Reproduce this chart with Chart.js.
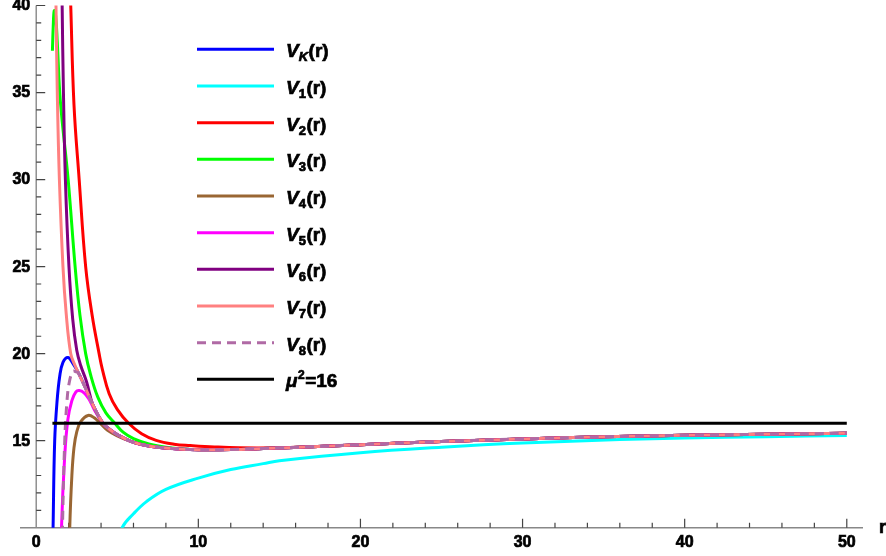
<!DOCTYPE html>
<html>
<head>
<meta charset="utf-8">
<script src="https://cdn.jsdelivr.net/npm/chart.js@4.4.1/dist/chart.umd.min.js"></script>
<style>
  html, body { margin: 0; padding: 0; background: #fff; }
</style>
</head>
<body>
<canvas id="chart" width="886" height="556"></canvas>
<script>
// values, as [r, V] pairs
const tail = [[2.6, 18.9], [3, 18.1], [3.5, 17.05], [4.12, 16.0], [4.6, 15.6], [5, 15.35],
  [5.8, 14.97], [6.5, 14.78], [7.5, 14.62], [9, 14.51], [10, 14.48], [12, 14.49], [14, 14.55],
  [17, 14.65], [20, 14.77], [25, 14.95], [30, 15.1], [35, 15.22], [40, 15.31], [45, 15.37],
  [50, 15.42]];

const vK = [[0.98, 7], [1.04, 10], [1.14, 15], [1.28, 17.2], [1.45, 18.7], [1.65, 19.5],
  [1.96, 19.78], [2.25, 19.45]];
const v1 = [[5.22, 9.3], [5.3, 10], [6, 10.8], [6.8, 11.5], [8, 12.2], [10, 12.85], [12, 13.34],
  [14, 13.68], [15, 13.85], [20, 14.31], [25, 14.62], [30, 14.86], [36, 15.06], [40, 15.15],
  [45, 15.23], [50, 15.29]];
const v2 = [[2.0, 44], [2.13, 40], [2.33, 34.3], [2.65, 30], [3.05, 25], [3.45, 22.2], [3.88, 20],
  [4.08, 19.1], [4.5, 17.7], [5, 16.8], [5.7, 16.0], [6.5, 15.4], [7.4, 15.02], [8.5, 14.8],
  [9.5, 14.72], [11, 14.64], [13.6, 14.58], [16, 14.62]];
const v3 = [[1.0, 37.4], [1.05, 38.8], [1.11, 39.7], [1.2, 39.4], [1.3, 37.9], [1.49, 34.5],
  [1.97, 30], [2.4, 25], [2.7, 22.2], [3.05, 20], [3.35, 18.8], [3.8, 17.5], [4.3, 16.6],
  [4.85, 16.0], [5.36, 15.49], [6, 15.12], [7, 14.8], [8, 14.62], [9, 14.53]];
const v4 = [[2.03, 7], [2.07, 10], [2.2, 13], [2.33, 14.6], [2.5, 15.5], [2.75, 16.1], [3.2, 16.45],
  [3.6, 16.3], [4.0, 15.95], [4.4, 15.6], [5, 15.28]];
const v5 = [[1.52, 7], [1.56, 10], [1.75, 14], [1.95, 16.2], [2.2, 17.3], [2.45, 17.8],
  [2.65, 17.88], [2.95, 17.75], [3.25, 17.4], [3.6, 16.75]];
const v6 = [[1.55, 44], [1.6, 40], [1.68, 35], [1.8, 30], [2.02, 25], [2.25, 22], [2.5, 20.2],
  [2.75, 19.3], [3.1, 18.4]];
const v7 = [[1.15, 45], [1.22, 40], [1.3, 35], [1.43, 30], [1.65, 25], [1.85, 22.3], [2.13, 20],
  [2.4, 19.3]];
const v8 = [[1.58, 7], [1.62, 10], [1.76, 15], [1.9, 17.3], [2.05, 18.4], [2.27, 18.98],
  [2.45, 18.95]];
const mu = [[1, 16], [50, 16]];

const names = ['VK', 'V1', 'V2', 'V3', 'V4', 'V5', 'V6', 'V7', 'V8', 'mu'];
const subs = ['K', '1', '2', '3', '4', '5', '6', '7', '8', ''];
const colors = ['#0000ff', '#00ffff', '#ff0000', '#00ff00', '#996633', '#ff00ff', '#800080',
  '#ff8080', '#b06aa5', '#000000'];

const xTicks = [0, 10, 20, 30, 40, 50];
const yTicks = [15, 20, 25, 30, 35, 40];

// head of a curve followed by the common tail beyond it
function withTail(head) {
  const last = head[head.length - 1][0];
  return head.concat(tail.filter(p => p[0] > last + 0.05));
}

const curves = [withTail(vK), v1, withTail(v2), withTail(v3), withTail(v4), withTail(v5),
  withTail(v6), withTail(v7), withTail(v8), mu];

const datasets = curves.map((pts, i) => ({
  label: names[i],
  data: pts.map(p => ({ x: p[0], y: p[1] })),
  borderColor: colors[i],
  borderWidth: 3,
  borderDash: i === 8 ? [9, 6] : [],
  pointRadius: 0,
  fill: false,
  tension: 0.4,
  order: names.length - i
}));

const FONT = '"Liberation Sans", Arial, sans-serif';

// fill plus a thin stroke, to get the heavy look of the original labels
function heavyText(ctx, s, x, y) {
  ctx.fillText(s, x, y);
  ctx.strokeText(s, x, y);
}

// Mathematica-style axes: inward ticks, axes crossing at (0, 10)
const axesPlugin = {
  id: 'mmaAxes',
  beforeDatasetsDraw(chart) {
    const ctx = chart.ctx, xs = chart.scales.x, ys = chart.scales.y, area = chart.chartArea;
    const x0 = xs.getPixelForValue(0), yb = ys.getPixelForValue(10), yt = ys.getPixelForValue(40);
    ctx.save();
    ctx.strokeStyle = '#888';
    ctx.lineWidth = 1.4;
    ctx.beginPath();
    ctx.moveTo(area.left, yb); ctx.lineTo(area.right, yb);
    ctx.moveTo(x0, yt); ctx.lineTo(x0, yb);
    ctx.stroke();

    ctx.strokeStyle = '#444';
    ctx.lineWidth = 1.2;
    ctx.beginPath();
    for (let v = 2; v <= 50; v += 2) {
      const len = xTicks.includes(v) ? 9 : 5;
      const px = xs.getPixelForValue(v);
      ctx.moveTo(px, yb); ctx.lineTo(px, yb - len);
    }
    for (let v = 11; v <= 40; v += 1) {
      const len = yTicks.includes(v) ? 9 : 5;
      const py = ys.getPixelForValue(v);
      ctx.moveTo(x0, py); ctx.lineTo(x0 + len, py);
    }
    ctx.stroke();

    ctx.fillStyle = '#000';
    ctx.strokeStyle = '#000';
    ctx.lineWidth = 0.7;
    ctx.font = 'bold 16px ' + FONT;
    ctx.textAlign = 'center';
    ctx.textBaseline = 'middle';
    xTicks.forEach(v => heavyText(ctx, String(v), xs.getPixelForValue(v), yb + 15));
    ctx.textAlign = 'right';
    yTicks.forEach(v => heavyText(ctx, String(v), x0 - 6, ys.getPixelForValue(v) + 0.5));

    ctx.textAlign = 'left';
    ctx.font = 'bold 18px ' + FONT;
    heavyText(ctx, 'r', 879, yb + 0.5);
    ctx.restore();
  }
};

const legendPlugin = {
  id: 'mmaLegend',
  afterDraw(chart) {
    const ctx = chart.ctx;
    ctx.save();
    names.forEach((n, i) => {
      const y = 49.3 + i * 36.67;
      const ds = chart.data.datasets[i];
      ctx.strokeStyle = ds.borderColor;
      ctx.lineWidth = 3;
      ctx.setLineDash(ds.borderDash);
      ctx.beginPath();
      ctx.moveTo(197, y); ctx.lineTo(274, y);
      ctx.stroke();
      ctx.setLineDash([]);

      ctx.fillStyle = '#000';
      ctx.strokeStyle = '#000';
      ctx.lineWidth = 0.7;
      ctx.textBaseline = 'alphabetic';
      ctx.textAlign = 'left';
      let x = 286;
      const base = y + 8;
      if (n === 'mu') {
        ctx.font = 'italic bold 19px ' + FONT;
        heavyText(ctx, '\u03bc', x, base);
        x += ctx.measureText('\u03bc').width;
        ctx.font = 'bold 12px ' + FONT;
        heavyText(ctx, '2', x + 0.5, base - 8);
        x += ctx.measureText('2').width + 1;
        ctx.font = 'bold 19px ' + FONT;
        heavyText(ctx, '=16', x, base);
      } else {
        ctx.font = 'italic bold 19px ' + FONT;
        heavyText(ctx, 'V', x, base);
        x += ctx.measureText('V').width;
        ctx.font = (subs[i] === 'K' ? 'italic ' : '') + 'bold 13px ' + FONT;
        heavyText(ctx, subs[i], x, base + 4);
        x += ctx.measureText(subs[i]).width + 0.5;
        ctx.font = 'bold 19px ' + FONT;
        heavyText(ctx, '(r)', x, base);
      }
    });
    ctx.restore();
  }
};

new Chart(document.getElementById('chart'), {
  type: 'line',
  data: { datasets: datasets },
  options: {
    responsive: false,
    animation: false,
    layout: { padding: { left: 20, right: 23, top: 5.5, bottom: 28.3 } },
    scales: {
      x: { type: 'linear', min: -1, max: 51, display: false },
      y: { type: 'linear', min: 10, max: 40, display: false }
    },
    plugins: { legend: { display: false }, tooltip: { enabled: false } }
  },
  plugins: [axesPlugin, legendPlugin]
});
</script>
</body>
</html>
